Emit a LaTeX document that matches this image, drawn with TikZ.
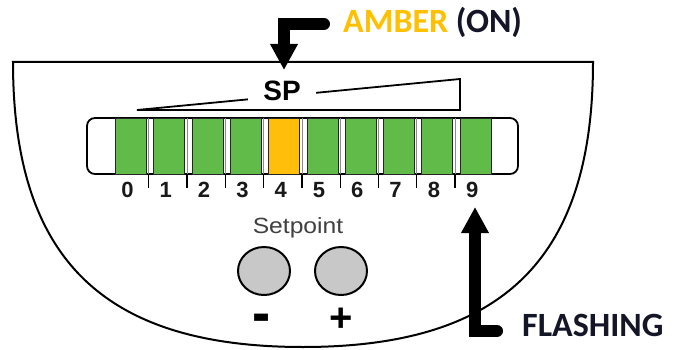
\documentclass[tikz,border=0pt]{standalone}
\usepackage{fontspec}
\setmainfont{Liberation Sans}
\newfontfamily\calib{Carlito}
\usetikzlibrary{arrows.meta,shapes.geometric}
\definecolor{ledgreen}{RGB}{96,187,72}
\definecolor{ledamber}{RGB}{255,190,10}
\definecolor{ambertext}{RGB}{255,192,0}
\definecolor{navytext}{RGB}{20,22,40}
\definecolor{btngray}{RGB}{200,200,200}
\begin{document}
\begin{tikzpicture}[x=1pt,y=-1pt,
  outline/.style={draw=black, line width=2pt},
  cellbox/.style={draw=black!85, line width=1pt, minimum width=31pt, minimum height=56pt, anchor=north west, inner sep=0pt},
  digit/.style={font=\fontsize{22}{22}\selectfont\bfseries, text=black!90, inner sep=0pt},
  bigarrow/.style={line width=12pt, line cap=round, line join=miter, -{Triangle[width=26pt,length=26pt]}},
  callout/.style={font=\calib\fontsize{34}{34}\selectfont\bfseries, inner sep=0pt, anchor=base west},
  button/.style={ellipse, draw=black, line width=2pt, fill=btngray, minimum width=52pt, minimum height=48pt}]
\useasboundingbox (0,0) rectangle (682,350);
\fill[white] (0,0) rectangle (682,350);

% panel outline
\coordinate (tl) at (13,62);
\coordinate (tr) at (593,62);
\coordinate (bot) at (303,347);
\draw[outline] (tl) -- (tr) .. controls (593,258.7) and (503,347) .. (bot)
  .. controls (103,347) and (13,258.7) .. cycle;

% SP wedge
\coordinate (wl) at (137,110);
\coordinate (wr) at (460,110);
\coordinate (wt) at (460,79);
\draw[line width=1.8pt, line join=miter] (wt) -- (wr) -- (wl) -- cycle;
\node[fill=white, inner xsep=15pt, inner ysep=1pt, font=\fontsize{28}{28}\selectfont\bfseries] (sp) at (282,91) {SP};

% LED bar
\draw[line width=1.8pt, rounded corners=8pt] (87,118) rectangle (518,174);
\foreach \i/\c in {0/ledgreen,1/ledgreen,2/ledgreen,3/ledgreen,4/ledamber,5/ledgreen,6/ledgreen,7/ledgreen,8/ledgreen,9/ledgreen}{
  \node[cellbox, fill=\c] (c\i) at ({115+38.3*\i},118) {};
  \node[digit] (d\i) at ({127.5+38.3*\i},190) {\i};
}
\foreach \i in {0,...,8}{
  \draw[black!45, line width=0.7pt] ({148.7+38.3*\i},118) -- ({148.7+38.3*\i},174);
  \draw[line width=1.3pt] ({148.7+38.3*\i},174) -- ({148.7+38.3*\i},188);
}

% setpoint buttons
\node[font=\fontsize{22}{22}\selectfont, text=black!75, inner sep=0pt] (setpt) at (298,228) {\scalebox{1.12}[1]{Setpoint}};
\node[button] (minus) at (264,271) {};
\node[button] (plus) at (341,271) {};
\node[font=\fontsize{32}{32}\selectfont\bfseries, inner sep=0pt, anchor=base] (mlab) at (262,333) {\scalebox{1.7}[1.9]{-}};
\node[font=\fontsize{40}{40}\selectfont\bfseries, inner sep=0pt, anchor=base] (plab) at (341,331) {+};

% callouts
\node[callout, text=ambertext] (amber) at (343,33) {AMBER \textcolor{navytext}{(ON)}};
\node[callout, text=navytext] (flash) at (522,336) {FLASHING};
\coordinate (a1s) at (324,24);
\coordinate (a1c) at (284,24);
\coordinate (a1t) at (284,70);
\draw[bigarrow] (a1s) -- (a1c) -- (a1t);
\coordinate (a2s) at (497,331);
\coordinate (a2c) at (475,331);
\coordinate (a2t) at (475,207);
\draw[bigarrow] (a2s) -- (a2c) -- (a2t);
\end{tikzpicture}
\end{document}
